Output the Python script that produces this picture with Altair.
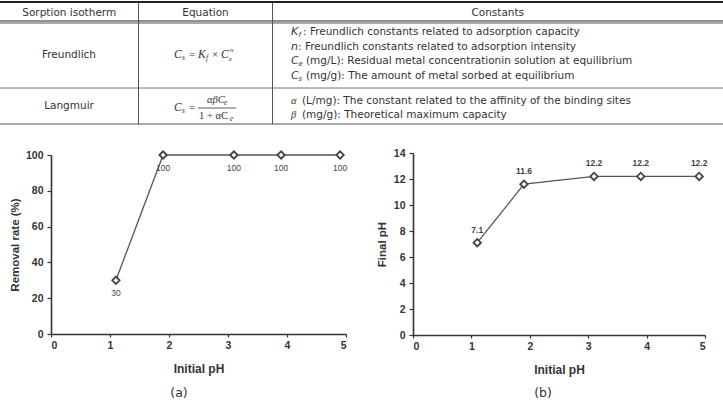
import altair as alt
import pandas as pd

# ---------------- data ----------------
initial_ph = [1.1, 1.9, 3.1, 3.9, 4.9]
removal_rate = [30, 100, 100, 100, 100]
final_ph = [7.1, 11.6, 12.2, 12.2, 12.2]
x_ticks = [0, 1, 2, 3, 4, 5]
y_ticks_a = [0, 20, 40, 60, 80, 100]
y_ticks_b = [0, 2, 4, 6, 8, 10, 12, 14]

table_headers = ["Sorption isotherm", "Equation", "Constants"]
isotherms = ["Freundlich", "Langmuir"]
freundlich_sym = ["K", "n", "C", "C"]
freundlich_sub = ["f", "", "e", "s"]
freundlich_desc = [
    ": Freundlich constants related to adsorption capacity",
    ": Freundlich constants related to adsorption intensity",
    "(mg/L): Residual metal concentrationin solution at equilibrium",
    "(mg/g): The amount of metal sorbed at equilibrium",
]
langmuir_sym = ["\u03b1", "\u03b2"]
langmuir_desc = [
    "(L/mg): The constant related to the affinity of the binding sites",
    "(mg/g): Theoretical maximum capacity",
]
panel_labels = ["(a)", "(b)"]

# ---------------- layout / style ----------------
W, H = 723, 401
SANS = "Liberation Sans"
TSANS = "DejaVu Sans"
SERIF = "Liberation Serif"
TXT = "#333333"


def one(s=""):
    return pd.DataFrame({"t": [s]})


def text(s, x, y, size=10.5, align="center", font=SANS, style="normal",
         weight="normal", color=TXT):
    return alt.Chart(one(s)).mark_text(
        align=align, baseline="middle", fontSize=size, font=font,
        fontStyle=style, fontWeight=weight, color=color
    ).encode(x=alt.value(x), y=alt.value(y), text="t:N")


def hline(x1, x2, y, w=1.0, color="#444444"):
    return alt.Chart(one()).mark_rule(strokeWidth=w, color=color).encode(
        x=alt.value(x1), x2=alt.value(x2), y=alt.value(y))


def vline(x, y1, y2, w=1.0, color="#555555"):
    return alt.Chart(one()).mark_rule(strokeWidth=w, color=color).encode(
        x=alt.value(x), y=alt.value(y1), y2=alt.value(y2))


layers = []
# table rules
col_x = [0, 138.5, 272.5, W]
layers += [
    hline(0, W, 2, 2.0, "#222222"),
    hline(0, W, 21, 1.0, "#222222"),
    hline(0, W, 23, 1.0, "#555555"),
    hline(0, W, 88, 1.0, "#777777"),
    hline(0, W, 124, 1.0, "#555555"),
    vline(col_x[1], 3, 124),
    vline(col_x[2], 3, 124),
]
# header
for i, h in enumerate(table_headers):
    layers.append(text(h, (col_x[i] + col_x[i + 1]) / 2, 12.5, size=10.5, font=TSANS))
# row labels
row_y = [55, 106]
for name, ry in zip(isotherms, row_y):
    layers.append(text(name, 69, ry, size=10.5, font=TSANS))

# Freundlich equation  Cs = Kf x Ce^n
ey = 55
eq_parts = [
    ("C", 174, ey, 11.5, "italic"), ("s", 182, ey + 3, 7.5, "italic"),
    ("=", 189, ey, 11, "normal"), ("K", 198, ey, 11.5, "italic"),
    ("f", 206, ey + 3, 7.5, "italic"), ("\u00d7", 212, ey, 11, "normal"),
    ("C", 221, ey, 11.5, "italic"), ("e", 229, ey + 4, 7, "italic"),
    ("n", 230, ey - 5, 7, "italic"),
]
for s, x, y, sz, st in eq_parts:
    layers.append(text(s, x, y, size=sz, align="left", font=SERIF, style=st))

# Langmuir equation  Cs = a b Ce / (1 + a Ce)
ly = 108
lang_parts = [
    ("C", 174, ly, 11.5, "italic"), ("s", 182, ly + 3, 7.5, "italic"),
    ("=", 189, ly, 11, "normal"),
    ("\u03b1\u03b2C", 207, ly - 8, 10.5, "italic"), ("e", 224, ly - 5, 7.5, "italic"),
    ("1 + \u03b1C", 199, ly + 8, 10.5, "normal"), ("e", 230, ly + 11, 7.5, "italic"),
]
for s, x, y, sz, st in lang_parts:
    layers.append(text(s, x, y, size=sz, align="left", font=SERIF, style=st))
layers.append(hline(198, 236, ly, 0.8, "#333333"))

# constants column
sym_x = 291
f_y = [32, 46.5, 61, 75.5]
for sym, sub, desc, y in zip(freundlich_sym, freundlich_sub, freundlich_desc, f_y):
    layers.append(text(sym, sym_x, y, size=11, align="left", font=TSANS, style="italic"))
    if sub:
        layers.append(text(sub, sym_x + 7.5, y + 3, size=7, align="left", font=TSANS, style="italic"))
        w = 12 if desc.startswith(":") else 15
    else:
        w = 7
    layers.append(text(desc, sym_x + w, y, size=10.5, align="left", font=TSANS))
l_y = [100.5, 115]
for sym, desc, y in zip(langmuir_sym, langmuir_desc, l_y):
    layers.append(text(sym, sym_x, y, size=10.5, align="left", font=SERIF, style="italic"))
    layers.append(text(desc, sym_x + 11, y, size=10.5, align="left", font=TSANS))

# panel captions
layers.append(text(panel_labels[0], 179, 393, size=12.5, font=TSANS))
layers.append(text(panel_labels[1], 543, 393, size=12.5, font=TSANS))


def panel(yvals, ytitle, xr, yr, ydom, yticks, title_x, label_dy, lbl_fmt, lbl_weight):
    df = pd.DataFrame({"ph": initial_ph, "v": yvals})
    xax = alt.Axis(
        orient="bottom", offset=yr[0] - H, values=x_ticks, format="d",
        title="Initial pH", titleX=(xr[0] + xr[1]) / 2, titleY=34,
        titleBaseline="middle", titleFont=SANS, titleFontSize=12,
        titleFontWeight="bold", titleColor=TXT,
        labelFont=SANS, labelFontSize=10.5, labelFontWeight="bold",
        labelColor=TXT, labelPadding=3, grid=False,
        domainColor="#333333", domainWidth=1.6, tickColor="#333333",
        tickWidth=1.2, tickSize=3,
    )
    yax = alt.Axis(
        orient="left", offset=-xr[0], values=yticks, format="d",
        title=ytitle, titleX=title_x - xr[0], titleY=(yr[0] + yr[1]) / 2,
        titleBaseline="middle", titleAngle=270, titleFont=SANS,
        titleFontSize=11.5, titleFontWeight="bold", titleColor=TXT,
        labelFont=SANS, labelFontSize=10.5, labelFontWeight="bold",
        labelColor=TXT, labelPadding=4, grid=False,
        domainColor="#333333", domainWidth=1.6, tickColor="#333333",
        tickWidth=1.2, tickSize=4,
    )
    X = alt.X("ph:Q", scale=alt.Scale(domain=[0, 5], range=list(xr), nice=False, zero=False), axis=xax)
    Y = alt.Y("v:Q", scale=alt.Scale(domain=list(ydom), range=list(yr), nice=False, zero=False), axis=yax)
    base = alt.Chart(df)
    line = base.mark_line(color="#555555", strokeWidth=1.3).encode(x=X, y=Y)
    pts = base.mark_point(shape="diamond", size=55, filled=True, fill="white",
                          stroke="#444444", strokeWidth=1.8, opacity=1).encode(x=X, y=Y)
    lbl = base.mark_text(dy=label_dy, fontSize=8.5, font=SANS, fontWeight=lbl_weight,
                         color="#444444").encode(x=X, y=Y, text=alt.Text("v:Q", format=lbl_fmt))
    return alt.layer(line, pts, lbl)


panel_a = panel(removal_rate, "Removal rate (%)", (51, 346), (334, 155), (0, 100),
                y_ticks_a, 15, 13, "d", "normal")
panel_b = panel(final_ph, "Final pH", (413, 705), (335, 153), (0, 14),
                y_ticks_b, 382, -13, ".1f", "bold")

chart = alt.layer(*layers, panel_a, panel_b).resolve_scale(
    x="independent", y="independent"
).resolve_axis(
    x="independent", y="independent"
).properties(
    width=W, height=H, padding=0,
    autosize=alt.AutoSizeParams(type="none"),
    background="white",
).configure_view(stroke=None)

chart.save("out.html", embed_options={"renderer": "svg", "actions": False})
